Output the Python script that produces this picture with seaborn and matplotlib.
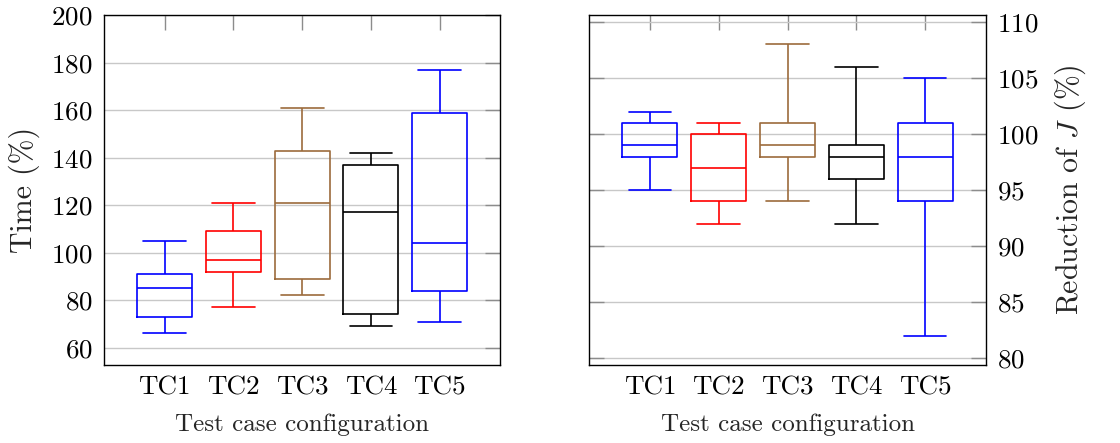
import numpy as np
import pandas as pd
import seaborn as sns
import matplotlib.pyplot as plt

categories = ["TC1", "TC2", "TC3", "TC4", "TC5"]
colors = ["#0000ff", "#ff0000", "#9c6b3c", "#000000", "#0000ff"]

# box statistics: min, q1, median, q3, max
time_min = [66, 77, 82, 69, 71]
time_q1 = [73, 92, 89, 74, 84]
time_med = [85, 97, 121, 117, 104]
time_q3 = [91, 109, 143, 137, 159]
time_max = [105, 121, 161, 142, 177]

red_min = [95, 92, 94, 92, 82]
red_q1 = [98, 94, 98, 96, 94]
red_med = [99, 97, 99, 98, 98]
red_q3 = [101, 100, 101, 99, 101]
red_max = [102, 101, 108, 106, 105]


def long_frame(mins, q1s, meds, q3s, maxs):
    # five points per case reproduce the quartiles exactly (linear quantiles)
    rows = []
    for cat, *vals in zip(categories, mins, q1s, meds, q3s, maxs):
        for v in vals:
            rows.append({"case": cat, "value": v})
    return pd.DataFrame(rows)


time_df = long_frame(time_min, time_q1, time_med, time_q3, time_max)
red_df = long_frame(red_min, red_q1, red_med, red_q3, red_max)

sns.set_style("white")
plt.rcParams["font.family"] = ["cmr10"]
plt.rcParams["mathtext.fontset"] = "cm"
plt.rcParams["axes.formatter.use_mathtext"] = True

fig = plt.figure(figsize=(11.2, 4.43), dpi=100)
ax1 = fig.add_axes([0.0929, 0.176, 0.3538, 0.7895])
ax2 = fig.add_axes([0.5262, 0.176, 0.3539, 0.7895])

palette = dict(zip(categories, colors))
for ax, df in [(ax1, time_df), (ax2, red_df)]:
    sns.boxplot(
        data=df, x="case", y="value", hue="case", palette=palette,
        fill=False, whis=(0, 100), width=0.8, linewidth=1.2,
        legend=False, ax=ax, capwidths=0.62,
    )
    ax.set_xlim(-0.88, 4.88)
    ax.set_axisbelow(True)
    ax.yaxis.grid(True, color="#c8c8c8", linewidth=1.0)
    ax.tick_params(axis="both", direction="in", length=11, width=1.0,
                   color="#8c8c8c", labelsize=19.5, top=True, right=True,
                   labelcolor="black", pad=8)
    for s in ax.spines.values():
        s.set_color("black")
        s.set_linewidth(1.0)
    ax.set_xlabel("Test case configuration", fontsize=18, labelpad=10)

ax1.set_ylim(52.7, 200)
ax1.set_yticks(np.arange(60, 201, 20))
ax1.set_ylabel("Time (%)", fontsize=21.5, labelpad=8)

ax2.set_ylim(79.4, 110.6)
ax2.set_yticks(np.arange(80, 111, 5))
ax2.yaxis.tick_right()
ax2.tick_params(axis="y", left=True, right=True, direction="in")
ax2.yaxis.set_label_position("right")
ax2.set_ylabel(r"Reduction of $J$ (%)", fontsize=21.5, labelpad=10)

fig.savefig("out.png", dpi=100)
